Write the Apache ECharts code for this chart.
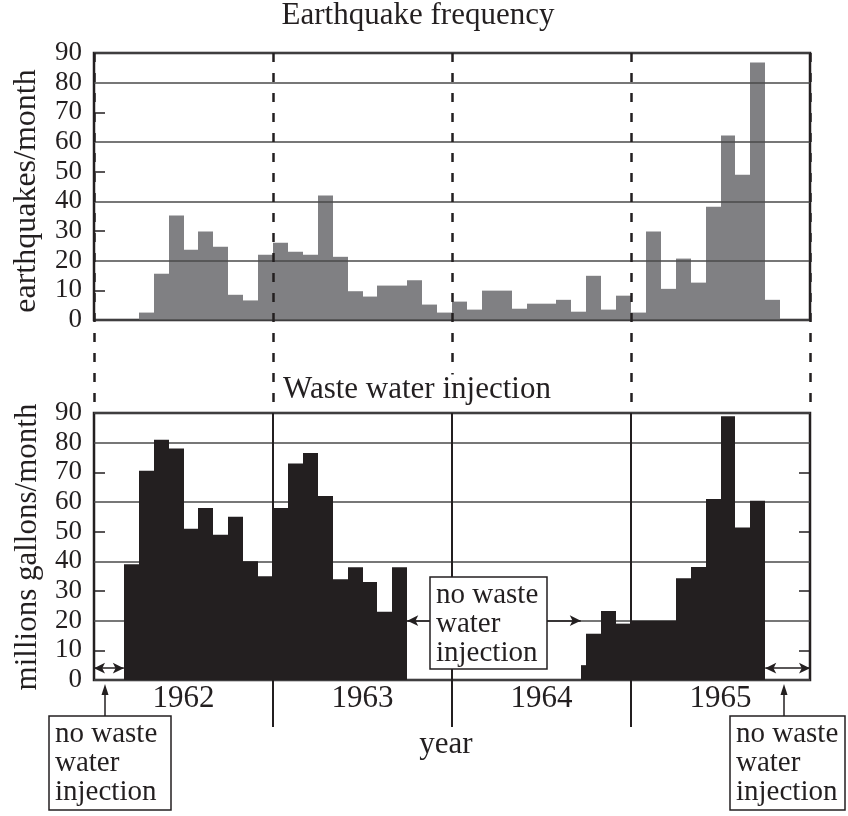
<!DOCTYPE html>
<html><head><meta charset="utf-8">
<script src="https://cdn.jsdelivr.net/npm/echarts@6/dist/echarts.min.js"></script>
<style>html,body{margin:0;padding:0;background:#fff}#c{width:848px;height:816px}</style>
</head><body><div id="c"></div>
<script>
// ---------------- data ----------------
const firstYear = 1962;
const yearLabels = ['1962', '1963', '1964', '1965'];
const yTickValues = [0, 10, 20, 30, 40, 50, 60, 70, 80, 90];

// earthquakes per month, starting April 1962
const quakeStart = '1962-04';
const quakes = [
  2.5, 15.6, 35.2, 23.7, 29.8, 24.7, 8.5, 6.6, 22,          // 1962 Apr-Dec
  26, 23, 22, 42, 21.3, 9.7, 7.9, 11.6, 11.6, 13.4, 5.2, 2.5, // 1963
  6.2, 3.5, 9.9, 9.9, 3.8, 5.5, 5.5, 6.8, 2.8, 14.9, 3.5, 8.2, // 1964
  2.5, 29.8, 10.5, 20.7, 12.6, 38.2, 62.2, 49, 86.8, 6.8      // 1965 Jan-Oct
];

// waste water injected, millions of gallons per month
const injection1Start = '1962-03';
const injection1 = [39, 70.5, 81, 78, 51, 58, 49, 55, 40, 35,   // 1962 Mar-Dec
                    58, 73, 76.5, 62, 34, 38, 33, 23, 38];      // 1963 Jan-Sep
const injectionResumed = '1964-09-20';   // partial month
const injectionResumedValue = 5;
const injection2Start = '1964-10';
const injection2 = [15.6, 23.3, 19,                            // 1964 Oct-Dec
                    20, 20, 20, 34.3, 38.1, 61, 88.9, 51.4, 60.4]; // 1965 Jan-Sep

const noteText = 'no waste\nwater\ninjection';

// ---------------- helpers ----------------
function monthIndex(s) {
  const p = s.split('-').map(Number);
  return (p[0] - firstYear) * 12 + (p[1] - 1) + (p[2] ? (p[2] - 1) / 30 : 0);
}
function toBars(start, vals) {
  const m0 = monthIndex(start);
  return vals.map((v, i) => [m0 + i, m0 + i + 1, v]);
}
const quakeBars = toBars(quakeStart, quakes);
const inj2Start = monthIndex(injection2Start);
const injBars = toBars(injection1Start, injection1)
  .concat([[monthIndex(injectionResumed), inj2Start, injectionResumedValue]])
  .concat(toBars(injection2Start, injection2));
const totalMonths = yearLabels.length * 12;
const inj1End = monthIndex(injection1Start) + injection1.length;
const inj2End = inj2Start + injection2.length;

function renderBar(params, api) {
  const p0 = api.coord([api.value(0), api.value(2)]);
  const p1 = api.coord([api.value(1), 0]);
  const x0 = Math.round(p0[0]), x1 = Math.round(p1[0]);
  return { type: 'rect',
    shape: { x: x0, y: p0[1], width: x1 - x0, height: p1[1] - p0[1] },
    style: { fill: api.visual('color') } };
}

// ---------------- style ----------------
const FONT = '"Liberation Serif", "Times New Roman", serif';
const INK = '#231f20';
const L = 94, W = 716, H = 267, TOP1 = 53, TOP2 = 413;

function valueY(grid, extra) {
  return Object.assign({
    type: 'value', gridIndex: grid, min: 0, max: 90, interval: 10,
    axisLine: { show: false }, splitLine: { show: false },
    axisLabel: { show: false }, axisTick: { show: false }
  }, extra);
}
const labelY = (grid) => valueY(grid, {
  axisLabel: { show: true, fontFamily: FONT, fontSize: 27, color: INK, margin: 12,
    customValues: yTickValues },
  axisTick: { show: true, inside: true, length: 11, customValues: [10, 30, 50, 70],
    lineStyle: { color: INK, width: 1.5 } }
});
const gridLinesY = (grid, z) => valueY(grid, {
  interval: 20, z: z,
  splitLine: { show: true, lineStyle: { color: '#4a4a4a', width: 1.5 } }
});

const chart = echarts.init(document.getElementById('c'), null, { renderer: 'canvas' });

function arrow(x, y1, y2) {
  return [
    { type: 'line', z: 100, shape: { x1: x, y1: y1, x2: x, y2: y2 + 8 },
      style: { stroke: INK, lineWidth: 1.5 } },
    { type: 'polygon', z: 100, shape: { points: [[x, y2], [x - 3.5, y2 + 11], [x + 3.5, y2 + 11]] },
      style: { fill: INK } }
  ];
}
function noteBox(x, y, w, h) {
  return [
    { type: 'rect', z: 100, shape: { x: x, y: y, width: w, height: h },
      style: { fill: '#fff', stroke: INK, lineWidth: 1.5 } },
    { type: 'text', z: 101, x: x + 6, y: y + 4,
      style: { text: noteText, font: '29px ' + FONT, fill: INK, lineHeight: 29,
        align: 'left', verticalAlign: 'top' } }
  ];
}

const option = {
  animation: false,
  backgroundColor: '#fff',
  grid: [
    { left: L, top: TOP1, width: W, height: H, show: true, borderColor: INK, borderWidth: 2.5, backgroundColor: 'transparent' },
    { left: L, top: TOP2, width: W, height: H, show: true, borderColor: INK, borderWidth: 2.5, backgroundColor: 'transparent' },
    { left: L, top: TOP1, width: W, height: TOP2 - TOP1, show: false }
  ],
  xAxis: [
    { type: 'value', gridIndex: 0, min: 0, max: totalMonths,
      axisLine: { show: false }, axisTick: { show: false }, axisLabel: { show: false }, splitLine: { show: false } },
    { type: 'value', gridIndex: 1, min: 0, max: totalMonths, interval: 12,
      axisLine: { show: false },
      axisTick: { show: true, length: 47, customValues: [12, 24, 36], lineStyle: { color: INK, width: 2 } },
      axisLabel: { show: true, customValues: [6, 18, 30, 42], margin: 3,
        fontFamily: FONT, fontSize: 31, color: INK,
        formatter: (v) => yearLabels[Math.round((v - 6) / 12)] },
      splitLine: { show: true, lineStyle: { color: INK, width: 2 } } },
    { type: 'value', gridIndex: 2, min: 0, max: totalMonths, interval: 12, z: 6,
      axisLine: { show: false }, axisTick: { show: false }, axisLabel: { show: false },
      splitLine: { show: true, lineStyle: { color: INK, width: 2.5, type: [9, 11] } } }
  ],
  yAxis: [
    labelY(0),
    gridLinesY(0, 5),
    labelY(1),
    gridLinesY(1, 0),
    valueY(1, { position: 'right',
      axisTick: { show: true, inside: true, length: 11, customValues: [10, 30, 50, 70],
        lineStyle: { color: INK, width: 1.5 } } }),
    valueY(2, { min: 0, max: 1, interval: 1 })
  ],
  series: [
    { type: 'custom', name: 'earthquakes', xAxisIndex: 0, yAxisIndex: 0,
      renderItem: renderBar, encode: { x: [0, 1], y: 2 }, data: quakeBars,
      itemStyle: { color: '#808083' }, z: 2 },
    { type: 'custom', name: 'injection', xAxisIndex: 1, yAxisIndex: 2,
      renderItem: renderBar, encode: { x: [0, 1], y: 2 }, data: injBars,
      itemStyle: { color: INK }, z: 2,
      markLine: {
        silent: true, animation: false,
        label: { show: false },
        lineStyle: { color: INK, width: 1.5, type: 'solid' },
        symbolSize: [8, 11],
        data: [
          [{ coord: [0, 4], symbol: 'arrow' }, { coord: [monthIndex(injection1Start), 4], symbol: 'arrow' }],
          [{ coord: [inj2End, 4], symbol: 'arrow' }, { coord: [totalMonths, 4], symbol: 'arrow' }],
          [{ coord: [22.5, 20], symbol: 'none' }, { coord: [inj1End, 20], symbol: 'arrow' }],
          [{ coord: [30.3, 20], symbol: 'none' }, { coord: [monthIndex(injectionResumed), 20], symbol: 'arrow' }]
        ]
      } }
  ],
  graphic: [
    { type: 'text', z: 100, x: 418, y: 16,
      style: { text: 'Earthquake frequency', font: '31px ' + FONT, fill: INK, align: 'center', verticalAlign: 'middle' } },
    { type: 'text', z: 100, x: 417, y: 390,
      style: { text: 'Waste water injection', font: '31px ' + FONT, fill: INK, align: 'center', verticalAlign: 'middle',
        backgroundColor: '#fff', padding: [0, 3] } },
    { type: 'text', z: 100, x: 27, y: 191, rotation: Math.PI / 2,
      style: { text: 'earthquakes/month', font: '32px ' + FONT, fill: INK, align: 'center', verticalAlign: 'middle' } },
    { type: 'text', z: 100, x: 28, y: 547, rotation: Math.PI / 2,
      style: { text: 'millions gallons/month', font: '31px ' + FONT, fill: INK, align: 'center', verticalAlign: 'middle' } },
    { type: 'text', z: 100, x: 446, y: 745,
      style: { text: 'year', font: '31px ' + FONT, fill: INK, align: 'center', verticalAlign: 'middle' } }
  ]
    .concat(noteBox(430, 577, 117, 92))
    .concat(noteBox(49, 716, 122, 94))
    .concat(noteBox(730, 716, 115, 94))
    .concat(arrow(105, 716, 684))
    .concat(arrow(784, 716, 684))
};
chart.setOption(option);
</script>
</body></html>
